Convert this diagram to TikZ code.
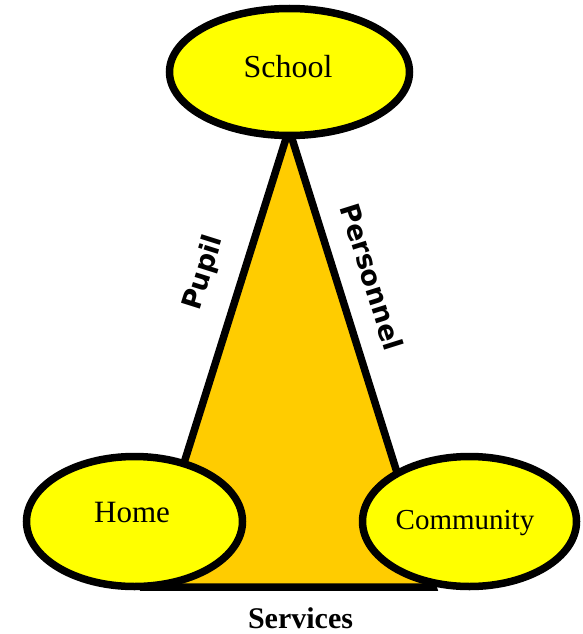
\documentclass[tikz,border=0pt]{standalone}
\usepackage{fontspec}
\setmainfont{Liberation Serif}
\newfontfamily\edgefont{DejaVu Sans}
\usetikzlibrary{shapes.geometric}
\definecolor{trifill}{HTML}{FFCC00}
\definecolor{ellfill}{HTML}{FFFF00}
\tikzset{
  bubble/.style={ellipse, draw=black, line width=7.5pt, fill=ellfill, inner sep=0pt},
  bubbletext/.style={font=\fontsize{31}{36}\selectfont, inner sep=0pt},
  edgelabel/.style={font=\edgefont\bfseries\fontsize{27}{32}\selectfont, inner sep=0pt},
  base/.style={line width=7.5pt, fill=trifill, draw=black, line join=miter}
}
\begin{document}
\begin{tikzpicture}[x=1pt,y=-1pt]
\useasboundingbox (0,0) rectangle (583,634);
\coordinate (apex) at (289,129);
\coordinate (bl) at (145,587);
\coordinate (br) at (433,587);
\draw[base] (apex) -- (bl) -- (br) -- cycle;
\node[bubble, minimum width=240pt, minimum height=127pt] (school) at (289.5,72) {};
\node[bubble, minimum width=216pt, minimum height=130pt] (home) at (134.5,521.5) {};
\node[bubble, minimum width=214pt, minimum height=130pt] (community) at (469.5,521.5) {};
\node[bubbletext, font=\fontsize{32}{38}\selectfont] (schooltext) at (288,67) {School};
\node[bubbletext] (hometext) at (132,512) {Home};
\node[bubbletext, font=\fontsize{29}{34}\selectfont] (communitytext) at (465,523) {Community};
\node[edgelabel, rotate=72.5] (pupil) at (204,273) {Pupil};
\node[edgelabel, rotate=-72.5] (personnel) at (372,277) {Personnel};
\node[font=\bfseries\fontsize{30}{36}\selectfont, inner sep=0pt] (services) at (300.5,618) {Services};
\end{tikzpicture}
\end{document}
